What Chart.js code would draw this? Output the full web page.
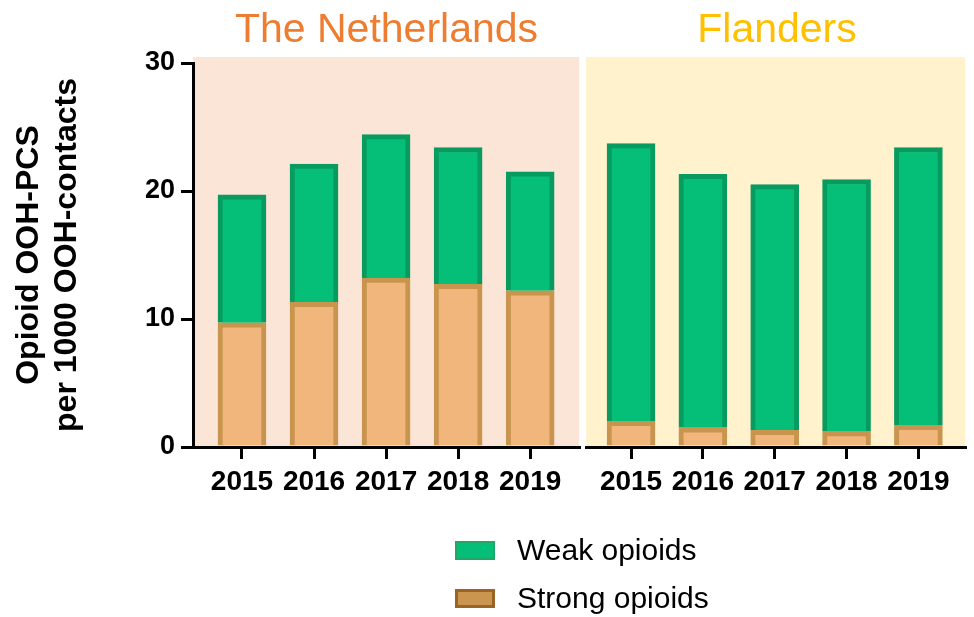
<!DOCTYPE html>
<html>
<head>
<meta charset="utf-8">
<script src="https://cdn.jsdelivr.net/npm/chart.js@4.4.0/dist/chart.umd.min.js"></script>
<style>
  body { margin: 0; background: #fff; }
  #wrap { position: relative; width: 974px; height: 617px; }
  .panelTitle {
    position: absolute; top: 4px; height: 48px; line-height: 48px; text-align: center;
    font-family: "Liberation Sans", Arial, sans-serif; font-size: 41px;
  }
  #legend {
    position: absolute; left: 455px; top: 526px;
    font-family: "Liberation Sans", Arial, sans-serif; font-size: 30px; color: #000;
  }
  .row { display: flex; align-items: center; height: 48px; }
  .box { width: 40px; height: 19px; box-sizing: border-box; margin-right: 22px; }
</style>
</head>
<body>
<div id="wrap">
  <canvas id="chart" width="974" height="617"></canvas>
  <div class="panelTitle" style="left:193px; width:387px; color:#ED7D31;">The Netherlands</div>
  <div class="panelTitle" style="left:587px; width:380px; color:#FFC000;">Flanders</div>
  <div id="legend"></div>
</div>
<script>
Chart.defaults.font.family = '"Liberation Sans", Arial, sans-serif';
Chart.defaults.color = '#000';

const years = [2015, 2016, 2017, 2018, 2019];
const nlStrong = [9.7, 11.3, 13.2, 12.7, 12.2];
const nlWeak = [10.0, 10.8, 11.2, 10.7, 9.3];
const flStrong = [2.0, 1.5, 1.3, 1.2, 1.7];
const flWeak = [21.7, 19.8, 19.2, 19.7, 21.7];

const weakFill = '#05BE78', weakLine = '#089B5F';
const strongFill = '#F0B67C', strongLine = '#C8944E';

// panel backgrounds behind each country's axis
const panelBg = {
  id: 'panelBg',
  beforeDraw(chart) {
    const {ctx, chartArea, scales} = chart;
    const top = chartArea.top - 6;
    [['x', '#FBE5D6'], ['x2', '#FFF2CC']].forEach(([id, c]) => {
      const s = scales[id];
      ctx.save();
      ctx.fillStyle = c;
      ctx.fillRect(s.left, top, s.right - s.left, chartArea.bottom - top);
      ctx.restore();
    });
  }
};

function bars(label, data, axis, fill, line) {
  return {
    label: label,
    data: data,
    xAxisID: axis,
    grouped: false,
    backgroundColor: fill,
    borderColor: line,
    borderWidth: 5,
    barThickness: 48
  };
}

function yearAxis(weight, stackWeight, min, max) {
  return {
    type: 'linear',
    position: 'bottom',
    stack: 'bot',
    stackWeight: stackWeight,
    weight: weight,
    stacked: true,
    offset: false,
    min: min,
    max: max,
    afterBuildTicks: (s) => { s.ticks = years.map((v) => ({value: v})); },
    afterFit: (s) => { s.height = 60; },
    ticks: {
      callback: (v) => String(v),
      font: {size: 28, weight: 'bold'},
      padding: 6,
      maxRotation: 0,
      autoSkip: false
    },
    grid: {offset: false, drawOnChartArea: false, color: '#000', lineWidth: 3, tickLength: 12},
    border: {color: '#000', width: 3}
  };
}

function blankAxis(position, stack, weight, stackWeight, h) {
  return {
    type: 'linear',
    position: position,
    stack: stack,
    stackWeight: stackWeight,
    weight: weight,
    offset: false,
    afterFit: (s) => { s.height = h; },
    ticks: {display: false},
    grid: {display: false},
    border: {display: false}
  };
}

const chart = new Chart(document.getElementById('chart'), {
  type: 'bar',
  data: {
    labels: years,
    datasets: [
      bars('Strong opioids', nlStrong, 'x', strongFill, strongLine),
      bars('Weak opioids', nlWeak, 'x', weakFill, weakLine),
      bars('Strong opioids', flStrong, 'x2', strongFill, strongLine),
      bars('Weak opioids', flWeak, 'x2', weakFill, weakLine)
    ]
  },
  options: {
    responsive: false,
    animation: false,
    layout: {padding: {top: 0, right: 2, bottom: 110, left: 0}},
    scales: {
      y: {
        type: 'linear',
        position: 'left',
        stacked: true,
        min: 0,
        max: 30,
        afterFit: (s) => { s.width = 193; },
        ticks: {stepSize: 10, font: {size: 27, weight: 'bold'}, padding: 6},
        grid: {drawOnChartArea: false, color: '#000', lineWidth: 3, tickLength: 12},
        border: {color: '#000', width: 3},
        title: {
          display: true,
          text: ['Opioid OOH-PCS', 'per 1000 OOH-contacts'],
          font: {size: 32, weight: 'bold', lineHeight: 1.2},
          padding: {top: 10, bottom: 0}
        }
      },
      x: yearAxis(0, 387, 2014.32, 2019.68),
      xgap: blankAxis('bottom', 'bot', 1, 7, 60),
      x2: yearAxis(2, 380, 2014.375, 2019.653),
      tgap: blankAxis('top', 'top', 1, 7, 63)
    },
    plugins: {
      legend: {display: false}
    }
  },
  plugins: [panelBg]
});

// legend drawn as html, weak first like the figure
const legendItems = [
  {text: 'Weak opioids', fill: weakFill, line: '#1FA86A', w: 2},
  {text: 'Strong opioids', fill: '#C9954F', line: '#9B6424', w: 3}
];
const leg = document.getElementById('legend');
legendItems.forEach((it) => {
  const row = document.createElement('div');
  row.className = 'row';
  const box = document.createElement('span');
  box.className = 'box';
  box.style.background = it.fill;
  box.style.border = it.w + 'px solid ' + it.line;
  const txt = document.createElement('span');
  txt.textContent = it.text;
  row.appendChild(box);
  row.appendChild(txt);
  leg.appendChild(row);
});
</script>
</body>
</html>
